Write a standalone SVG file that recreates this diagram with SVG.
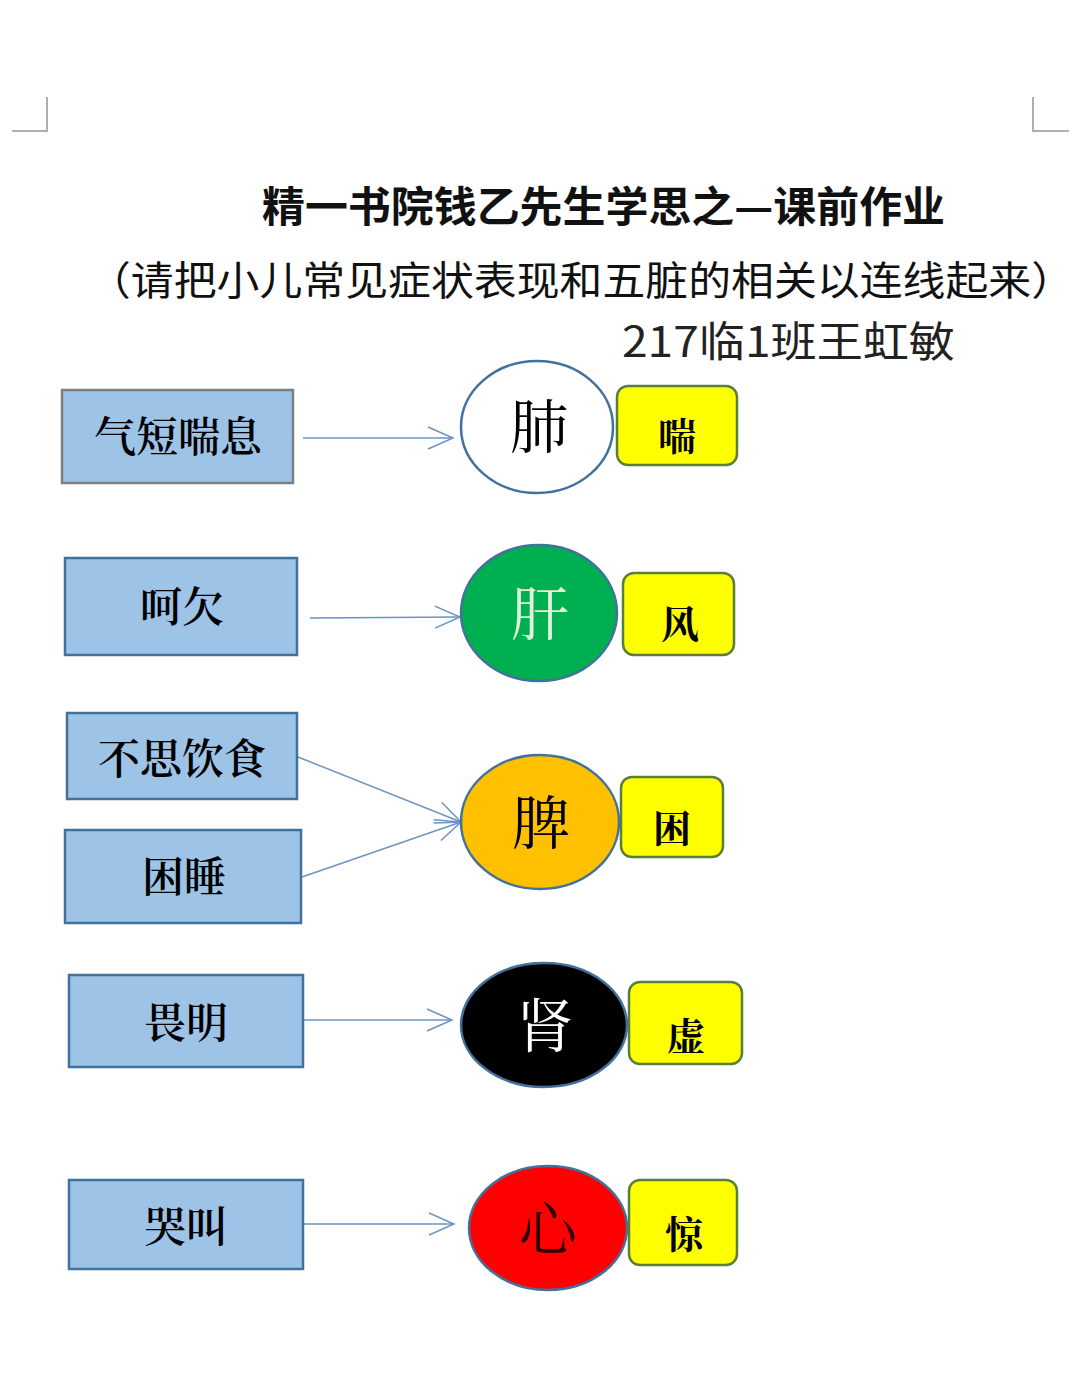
<svg xmlns="http://www.w3.org/2000/svg" width="1080" height="1392" viewBox="0 0 1080 1392">
<style>
.bg{fill:#ffffff}
.corner{fill:none;stroke:#b0b0b0;stroke-width:2}
.title{font-family:"Noto Sans CJK SC","Liberation Sans",sans-serif;font-weight:700;font-size:42px;fill:#111}
.sub{font-family:"Noto Sans CJK SC","Liberation Sans",sans-serif;font-weight:400;font-size:40px;fill:#111}
.name{font-family:"Noto Sans CJK SC","Liberation Sans",sans-serif;font-weight:400;font-size:42px;fill:#222}
.sym rect{fill:#9DC3E6;stroke:#41719C;stroke-width:2.5}
.lbl{font-family:"Noto Serif CJK SC","Noto Sans CJK SC",serif;font-weight:600;font-size:42px;fill:#000;text-anchor:middle}
.organ ellipse{stroke:#41719C;stroke-width:2.5}
.otxt{font-family:"Noto Serif CJK SC","Noto Sans CJK SC",serif;font-size:58px;text-anchor:middle}
.tag rect{fill:#FFFF00;stroke:#5A7F3A;stroke-width:2.5}
.ttxt{font-family:"Noto Serif CJK SC","Noto Sans CJK SC",serif;font-weight:700;font-size:38px;fill:#000;text-anchor:middle}
.conn line{stroke:#6C93C4;stroke-width:1.5;fill:none}
</style>
<defs>
<marker id="arr" markerUnits="userSpaceOnUse" markerWidth="30" markerHeight="28" viewBox="-27 -13 30 26" refX="0" refY="0" orient="auto">
<polyline points="-25,-11 0,0 -25,11" fill="none" stroke="#6C93C4" stroke-width="1.5"/>
</marker>
</defs>
<rect class="bg" x="0" y="0" width="1080" height="1392"/>
<g id="corners">
<polyline class="corner" points="47,97 47,131 12,131"/>
<polyline class="corner" points="1033,97 1033,131 1069,131"/>
</g>
<g id="heading">
<text class="title" x="262" y="222" textLength="683" lengthAdjust="spacingAndGlyphs">精一书院钱乙先生学思之—课前作业</text>
<text class="sub" x="88" y="295" textLength="986" lengthAdjust="spacingAndGlyphs">（请把小儿常见症状表现和五脏的相关以连线起来）</text>
<text class="name" x="622" y="357" textLength="333" lengthAdjust="spacingAndGlyphs">217临1班王虹敏</text>
</g>
<g id="conns" class="conn">
<line x1="303" y1="438" x2="453" y2="438" marker-end="url(#arr)"/>
<line x1="310" y1="618" x2="460" y2="617" marker-end="url(#arr)"/>
<line x1="298" y1="757" x2="461" y2="822" marker-end="url(#arr)"/>
<line x1="302" y1="877" x2="461" y2="822" marker-end="url(#arr)"/>
<line x1="304" y1="1020" x2="452" y2="1020" marker-end="url(#arr)"/>
<line x1="304" y1="1224" x2="454" y2="1224" marker-end="url(#arr)"/>
</g>
<g id="s1" class="sym"><rect x="62" y="390" width="231" height="93" style="stroke:#7F7F7F"/><text class="lbl" x="178" y="452">气短喘息</text></g>
<g id="s2" class="sym"><rect x="65" y="558" width="232" height="97"/><text class="lbl" x="182" y="622">呵欠</text></g>
<g id="s3" class="sym"><rect x="67" y="713" width="230" height="86"/><text class="lbl" x="182" y="774">不思饮食</text></g>
<g id="s4" class="sym"><rect x="65" y="830" width="236" height="93"/><text class="lbl" x="184" y="892">困睡</text></g>
<g id="s5" class="sym"><rect x="69" y="975" width="234" height="92"/><text class="lbl" x="186" y="1038">畏明</text></g>
<g id="s6" class="sym"><rect x="69" y="1180" width="234" height="89"/><text class="lbl" x="186" y="1242">哭叫</text></g>
<g id="o1" class="organ"><ellipse cx="537" cy="427" rx="76" ry="66" fill="#FFFFFF"/><text class="otxt" x="539" y="448" fill="#000">肺</text></g>
<g id="o2" class="organ"><ellipse cx="539" cy="613" rx="78" ry="68" fill="#00B050"/><text class="otxt" x="540" y="635" fill="#E2F0D9">肝</text></g>
<g id="o3" class="organ"><ellipse cx="540" cy="822" rx="79" ry="67" fill="#FFC000"/><text class="otxt" x="541" y="844" fill="#000">脾</text></g>
<g id="o4" class="organ"><ellipse cx="544" cy="1025" rx="83" ry="62" fill="#000000"/><text class="otxt" x="545" y="1047" fill="#FFFFFF">肾</text></g>
<g id="o5" class="organ"><ellipse cx="548" cy="1228" rx="79" ry="62" fill="#FF0000"/><text class="otxt" x="548" y="1250" fill="#2A0000">心</text></g>
<g id="t1" class="tag"><rect x="617" y="386" width="120" height="79" rx="11"/><text class="ttxt" x="677" y="450">喘</text></g>
<g id="t2" class="tag"><rect x="623" y="573" width="111" height="82" rx="11"/><text class="ttxt" x="680" y="638">风</text></g>
<g id="t3" class="tag"><rect x="621" y="777" width="102" height="80" rx="11"/><text class="ttxt" x="672" y="842">困</text></g>
<g id="t4" class="tag"><rect x="629" y="982" width="113" height="82" rx="11"/><text class="ttxt" x="686" y="1050">虚</text></g>
<g id="t5" class="tag"><rect x="629" y="1180" width="108" height="85" rx="11"/><text class="ttxt" x="684" y="1248">惊</text></g>
</svg>
